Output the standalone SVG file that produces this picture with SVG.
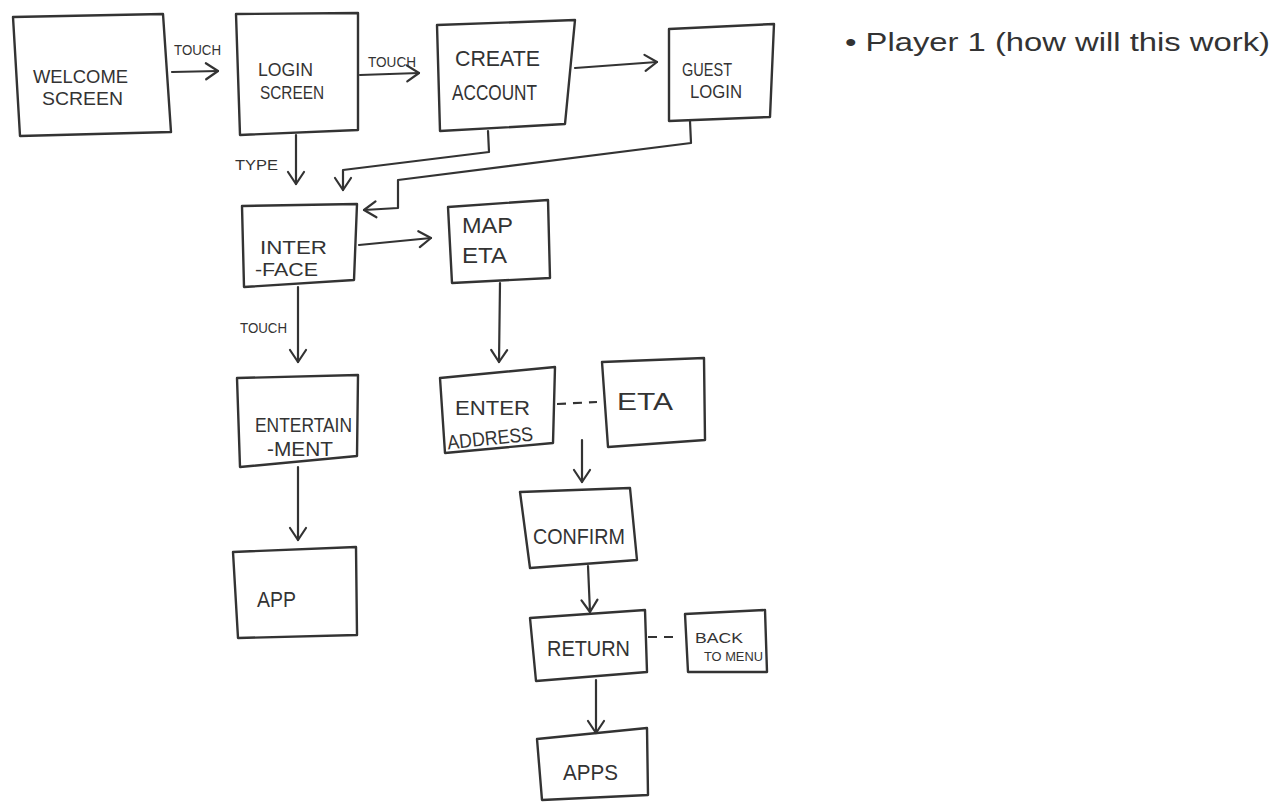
<svg xmlns="http://www.w3.org/2000/svg" width="1278" height="802" viewBox="0 0 1278 802">
<defs>
<style>
.box{fill:none;stroke:#333;stroke-width:2.4;stroke-linejoin:round}
.ln{fill:none;stroke:#333;stroke-width:2.2;stroke-linecap:round;stroke-linejoin:round}
.dash{fill:none;stroke:#333;stroke-width:2.2;stroke-dasharray:9 7}
.t{font-family:"Liberation Sans",Arial,sans-serif;fill:#333;font-size:22px}
.s{font-family:"Liberation Sans",Arial,sans-serif;fill:#333;font-size:15px}
</style>
<marker id="ah" markerUnits="userSpaceOnUse" markerWidth="20" markerHeight="20" viewBox="0 0 20 20" refX="16" refY="10" orient="auto">
<path d="M4,2 L16,10 L4,18" fill="none" stroke="#333" stroke-width="2.2" stroke-linecap="round" stroke-linejoin="round"/>
</marker>
</defs>
<rect width="1278" height="802" fill="#ffffff"/>

<g id="connectors">
<line class="ln" x1="172" y1="72" x2="218" y2="71" marker-end="url(#ah)"/>
<text class="s" x="174" y="55" textLength="47" lengthAdjust="spacingAndGlyphs">TOUCH</text>
<line class="ln" x1="360" y1="75" x2="419" y2="73" marker-end="url(#ah)"/>
<text class="s" x="368" y="67" textLength="48" lengthAdjust="spacingAndGlyphs">TOUCH</text>
<line class="ln" x1="575" y1="68" x2="657" y2="62" marker-end="url(#ah)"/>
<line class="ln" x1="296" y1="135" x2="296" y2="184" marker-end="url(#ah)"/>
<text class="s" x="235" y="170" textLength="43" lengthAdjust="spacingAndGlyphs">TYPE</text>
<polyline class="ln" points="488,131 489,152 343,170 343,190" marker-end="url(#ah)"/>
<polyline class="ln" points="690,121 691,143 398,180 398,208 364,210" marker-end="url(#ah)"/>
<line class="ln" x1="359" y1="245" x2="431" y2="238" marker-end="url(#ah)"/>
<line class="ln" x1="298" y1="287" x2="298" y2="362" marker-end="url(#ah)"/>
<text class="s" x="240" y="333" textLength="47" lengthAdjust="spacingAndGlyphs">TOUCH</text>
<line class="ln" x1="500" y1="283" x2="499" y2="362" marker-end="url(#ah)"/>
<line class="ln" x1="298" y1="467" x2="298" y2="540" marker-end="url(#ah)"/>
<line class="dash" x1="557" y1="404" x2="597" y2="402"/>
<line class="ln" x1="582" y1="440" x2="582" y2="482" marker-end="url(#ah)"/>
<line class="ln" x1="588" y1="566" x2="590" y2="612" marker-end="url(#ah)"/>
<line class="dash" x1="648" y1="637" x2="677" y2="637"/>
<line class="ln" x1="596" y1="680" x2="596" y2="733" marker-end="url(#ah)"/>
</g>

<g id="welcome">
<polygon class="box" points="13,17 163,14 171,132 20,136"/>
<text class="t" x="33" y="83" textLength="95" lengthAdjust="spacingAndGlyphs" style="font-size:19px">WELCOME</text>
<text class="t" x="42" y="105" textLength="81" lengthAdjust="spacingAndGlyphs" style="font-size:19px">SCREEN</text>
</g>
<g id="login">
<polygon class="box" points="236,14 358,13 358,130 240,135"/>
<text class="t" x="258" y="76" textLength="55" lengthAdjust="spacingAndGlyphs" style="font-size:18px">LOGIN</text>
<text class="t" x="260" y="99" textLength="64" lengthAdjust="spacingAndGlyphs" style="font-size:18px">SCREEN</text>
</g>
<g id="create">
<polygon class="box" points="437,25 575,20 565,124 440,131"/>
<text class="t" x="455" y="66" textLength="85" lengthAdjust="spacingAndGlyphs">CREATE</text>
<text class="t" x="452" y="100" textLength="85" lengthAdjust="spacingAndGlyphs">ACCOUNT</text>
</g>
<g id="guest">
<polygon class="box" points="669,29 774,24 770,117 669,121"/>
<text class="s" x="682" y="76" textLength="50" lengthAdjust="spacingAndGlyphs" style="font-size:18px">GUEST</text>
<text class="s" x="690" y="98" textLength="52" lengthAdjust="spacingAndGlyphs" style="font-size:18px">LOGIN</text>
</g>
<g id="interface">
<polygon class="box" points="242,206 357,204 354,280 244,287"/>
<text class="t" x="260" y="254" textLength="67" lengthAdjust="spacingAndGlyphs" style="font-size:18px">INTER</text>
<text class="t" x="255" y="276" textLength="63" lengthAdjust="spacingAndGlyphs" style="font-size:18px">-FACE</text>
</g>
<g id="mapeta">
<polygon class="box" points="448,207 548,200 550,278 452,283"/>
<text class="t" x="462" y="233" textLength="51" lengthAdjust="spacingAndGlyphs">MAP</text>
<text class="t" x="462" y="263" textLength="45" lengthAdjust="spacingAndGlyphs">ETA</text>
</g>
<g id="entertainment">
<polygon class="box" points="237,378 358,375 357,456 240,467"/>
<text class="t" x="255" y="432" textLength="97" lengthAdjust="spacingAndGlyphs" style="font-size:20px">ENTERTAIN</text>
<text class="t" x="267" y="456" textLength="66" lengthAdjust="spacingAndGlyphs" style="font-size:20px">-MENT</text>
</g>
<g id="enteraddress">
<polygon class="box" points="440,378 555,367 553,443 445,453"/>
<text class="t" x="455" y="415" textLength="75" lengthAdjust="spacingAndGlyphs" style="font-size:20px">ENTER</text>
<text class="t" x="447" y="445" textLength="86" lengthAdjust="spacingAndGlyphs" style="font-size:20px" transform="rotate(-6 490 437)">ADDRESS</text>
</g>
<g id="eta">
<polygon class="box" points="602,362 704,358 705,440 608,447"/>
<text class="t" x="617" y="410" textLength="56" lengthAdjust="spacingAndGlyphs" style="font-size:24px">ETA</text>
</g>
<g id="confirm">
<polygon class="box" points="520,492 630,488 637,560 530,568"/>
<text class="t" x="533" y="544" textLength="92" lengthAdjust="spacingAndGlyphs">CONFIRM</text>
</g>
<g id="app">
<polygon class="box" points="233,552 356,547 357,635 238,638"/>
<text class="t" x="257" y="607" textLength="39" lengthAdjust="spacingAndGlyphs">APP</text>
</g>
<g id="return">
<polygon class="box" points="530,618 645,610 647,672 536,681"/>
<text class="t" x="547" y="656" textLength="83" lengthAdjust="spacingAndGlyphs">RETURN</text>
</g>
<g id="backtomenu">
<polygon class="box" points="685,614 765,610 767,672 688,672"/>
<text class="s" x="695" y="643" textLength="48" lengthAdjust="spacingAndGlyphs">BACK</text>
<text class="s" x="704" y="661" textLength="59" lengthAdjust="spacingAndGlyphs" style="font-size:12px">TO MENU</text>
</g>
<g id="apps">
<polygon class="box" points="537,739 647,728 648,795 542,800"/>
<text class="t" x="563" y="780" textLength="55" lengthAdjust="spacingAndGlyphs">APPS</text>
</g>
<g id="note">
<text class="t" x="845" y="51" textLength="425" lengthAdjust="spacingAndGlyphs" style="font-size:26px">• Player 1 (how will this work)</text>
</g>
</svg>
